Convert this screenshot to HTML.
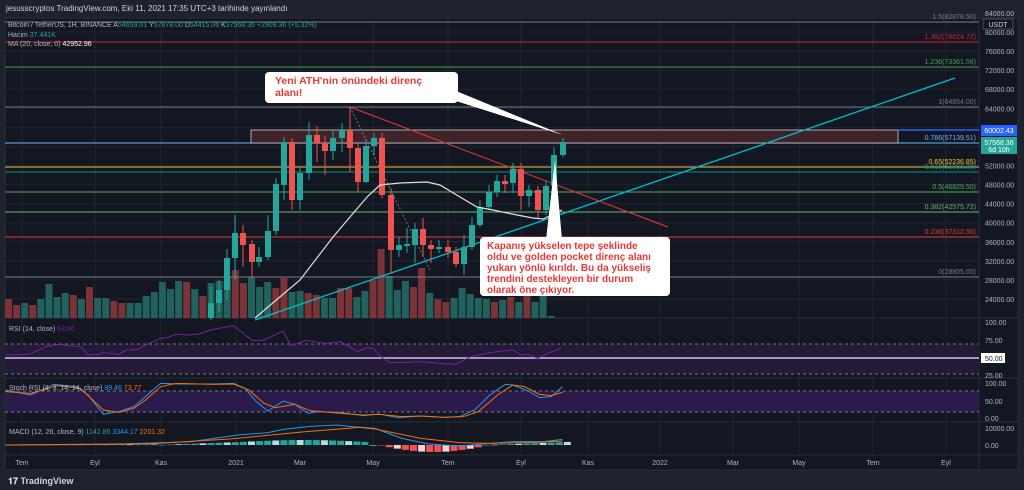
<!DOCTYPE html>
<html><head><meta charset="utf-8"><style>
html,body{margin:0;padding:0;background:#1e222d;width:1024px;height:490px;overflow:hidden}
svg{display:block}
text{font-family:"Liberation Sans","DejaVu Sans",sans-serif}
</style></head><body>
<svg id="s" width="1024" height="490" xmlns="http://www.w3.org/2000/svg">
<rect x="0" y="0" width="1024" height="490" fill="#1e222d"/>
<rect x="5" y="18" width="1013" height="452" fill="#131722" stroke="#2a2e39"/>
<text x="6" y="11" font-size="8" fill="#d1d4dc">jesusscryptos TradingView.com, Eki 11, 2021 17:35 UTC+3 tarihinde yayınlandı</text>
<g id="g"></g>
<text x="8" y="484" font-size="9" fill="#d1d4dc" font-weight="bold">𝟏𝟕 TradingView</text>
</svg>
<script>
var g=document.getElementById('g'),h='';var K=2.613;
function L(x1,y1,x2,y2,c,w,d){h+='<line x1="'+x1+'" y1="'+y1+'" x2="'+x2+'" y2="'+y2+'" stroke="'+c+'" stroke-width="'+(w||1)+'"'+(d?' stroke-dasharray="'+d+'"':'')+'/>';}
function R(x,y,w,hh,c,extra){h+='<rect x="'+x+'" y="'+y+'" width="'+w+'" height="'+hh+'" fill="'+c+'" '+(extra||'')+'/>';}
function T(x,y,s,c,t,a,extra){h+='<text x="'+x+'" y="'+y+'" font-size="'+s+'" fill="'+c+'"'+(a?' text-anchor="'+a+'"':'')+' '+(extra||'')+'>'+t+'</text>';}
function P(pts,c,w,sc){var s='';for(var i=0;i<pts.length;i++)s+=(sc?pts[i][0]/K:pts[i][0])+','+(sc?315+pts[i][1]/3:pts[i][1])+' ';h+='<polyline points="'+s+'" fill="none" stroke="'+c+'" stroke-width="'+(w||1)+'"/>';}
var tx=[[22,'Tem'],[95,'Eyl'],[161,'Kas'],[236,'2021'],[300,'Mar'],[373,'May'],[448,'Tem'],[521,'Eyl'],[588,'Kas'],[660,'2022'],[733,'Mar'],[799,'May'],[873,'Tem'],[946,'Eyl']];
tx.forEach(function(t){L(t[0],18,t[0],455,'#1f2430');T(t[0],465,7,'#b2b5be',t[1],'middle');});
for(var p=84000;p>=24000;p-=4000){var y=32+(80000-p)*0.004768;L(5,y,979,y,'#1f2430');if(p<84000)T(985,y+3,7,'#b2b5be',p+'.00');}
T(985,16,7,'#b2b5be','84000.00');R(983,19,30,10,'#131722','stroke="#4a4e59"');T(998,27,7,'#d1d4dc','USDT','middle');
L(5,318,1018,318,'#2a2e39');L(5,378,1018,378,'#2a2e39');L(5,422,1018,422,'#2a2e39');L(5,455,1018,455,'#2a2e39');L(979,18,979,470,'#2a2e39');
var vol=[['r',299],['r',305],['g',303],['r',305],['g',299],['g',284],['g',297],['g',293],['r',295],['g',299],['r',287],['g',298],['g',298],['r',301],['r',303],['g',303],['g',303],['g',296],['g',292],['g',282],['g',289],['g',281],['r',282],['g',289],['r',296],['g',283],['g',281],['g',276],['r',270],['r',283],['g',277],['g',287],['g',282],['r',288],['r',278],['g',292],['g',291],['r',293],['r',295],['g',298],['g',298],['r',288],['r',288],['g',297],['g',291],['r',280],['r',249],['g',276],['g',290],['g',281],['r',287],['r',268],['g',293],['r',299],['r',302],['g',298],['g',288],['g',294],['g',298],['g',299],['r',302],['g',300],['r',297],['g',302],['r',295],['g',302],['g',296],['g',316]];
vol.forEach(function(v,i){var x=5+i*8.1;R(x,v[1],7,318-v[1],v[0]=='g'?'#22625d':'#7a3437');});
var fib=[[22,'#787b86','1.5(82878.50)'],[42,'#c62828','1.382(78624.72)'],[67,'#43a047','1.236(73361.56)'],[107,'#787b86','1(64854.00)'],[143,'#64b5f6','0.786(57139.51)'],[167,'#fbc02d','0.65(52236.85)'],[172,'#009688','0.618(51083.28)'],[192,'#4caf50','0.5(46829.50)'],[212,'#66bb6a','0.382(42575.72)'],[237,'#e53935','0.236(37312.56)'],[277,'#787b86','0(28805.00)']];
fib.forEach(function(f){L(5,f[0],979,f[0],f[1]);T(976,f[0]-3,7,f[1],f[2],'end');});
R(251,130,647,13,'#3f2329','stroke="#d0d0d0" stroke-width="0.8"');L(898,130,979,130,'#2962ff',1.5);
L(255,320,955,78,'#00bcd4',1.3);L(350,107,668,227,'#e53935',1);L(350,107,430,270,'#787b86',1,'2,2');
var C=[[211,303,318,287,320,1],[219,290,303,280,312,1],[227,258,290,249,300,1],[235,233,258,215,280,1],[243,233,245,225,267,0],[252,244,262,240,277,0],[259,257,262,247,267,1],[268,231,257,215,260,1],[276,184,231,178,235,1],[284,142,185,137,200,1],[292,142,200,138,210,0],[300,173,200,167,210,1],[309,135,173,122,180,1],[317,135,143,126,162,0],[325,143,151,136,175,0],[333,138,151,130,160,1],[342,130,138,123,152,1],[350,130,148,107,172,0],[358,148,182,143,192,0],[366,146,182,139,183,1],[374,138,146,133,155,1],[382,138,195,133,198,0],[391,195,250,188,273,0],[399,245,250,237,257,1],[407,244,246,228,253,1],[415,229,245,223,263,1],[423,229,245,218,257,0],[431,245,249,240,263,0],[439,247,249,240,253,1],[448,247,252,240,258,0],[456,252,264,247,267,0],[464,247,264,235,275,1],[472,225,247,217,250,1],[480,207,225,200,227,1],[489,192,207,185,210,1],[497,181,192,175,197,1],[505,181,184,175,193,0],[513,169,183,163,193,1],[521,169,196,163,210,0],[529,190,196,185,207,1],[538,190,210,186,218,0],[546,186,210,180,215,1],[554,155,186,147,192,1],[563,142,155,138,157,1]];
C.forEach(function(c){var col=c[5]?'#26a69a':'#ef5350';L(c[0],c[3],c[0],c[4],col);R(c[0]-3,c[1],6,Math.max(1,c[2]-c[1]),col);});
P([[255,318],[300,280],[333,237],[367,197],[380,185],[400,183],[427,182],[440,185],[460,197],[477,207],[493,210],[517,215],[533,218],[543,219],[562,210]],'#e0e0e0',1.2);
R(981,125,36,11,'#2962ff');T(999,133,7,'#fff','60002.43','middle');
R(981,137,36,17,'#26a69a');T(999,145,7,'#fff','57568.36','middle');T(999,152,7,'#fff','6d 10h','middle');
h+='<polygon points="444,86 456,101 563,135" fill="#fff"/>';
R(265,72,193,31,'#fff','rx="4"');
T(275,84,10.5,'#e53935','Yeni ATH\'nin önündeki direnç','', 'font-weight="bold"');T(275,96,10.5,'#e53935','alanı!','','font-weight="bold"');
h+='<polygon points="546,240 562,240 555,160" fill="#fff"/>';
R(480,237,190,59,'#fff','rx="4"');
['Kapanış yükselen tepe şeklinde','oldu ve golden pocket direnç alanı','yukarı yönlü kırıldı. Bu da yükseliş','trendini destekleyen bir durum','olarak öne çıkıyor.'].forEach(function(t,i){T(487,249+i*11,10,'#e53935',t,'','font-weight="bold"');});
T(8,27,7,'#b2b5be','Bitcoin / TetherUS, 1H, BINANCE A<tspan fill="#26a69a">54659.01</tspan> Y<tspan fill="#26a69a">57678.00</tspan> D<tspan fill="#26a69a">54415.06</tspan> K<tspan fill="#26a69a">57568.36 +2909.36 (+5.32%)</tspan>');
T(8,37,7,'#b2b5be','Hacim <tspan fill="#26a69a">37.441K</tspan>');
T(8,46,7,'#b2b5be','MA (20, close, 0) <tspan fill="#fff">42952.96</tspan>');
R(5,344,974,30,'#221a36');L(5,344,979,344,'#787b86',1,'3,3');L(5,374,979,374,'#787b86',1,'3,3');L(5,358,979,358,'#d1c4e9',1.5);
P([[15,120],[75,118],[120,95],[150,88],[210,95],[230,120],[260,118],[270,112],[310,118],[330,105],[360,104],[380,90],[420,70],[440,67],[460,57],[490,60],[520,57],[550,45],[610,32],[660,77],[690,75],[740,48],[760,92],[800,76],[850,85],[890,80],[935,110],[960,98],[975,100],[1000,130],[1020,143],[1060,142],[1100,140],[1150,145],[1190,148],[1230,125],[1270,115],[1300,110],[1340,105],[1360,120],[1380,118],[1405,130],[1430,115],[1465,100]],'#7b1fa2',1,1);
T(9,331,7,'#b2b5be','RSI (14, close) <tspan fill="#7b1fa2">63.66</tspan>');
T(985,325,7,'#b2b5be','100.00');T(985,343,7,'#b2b5be','75.00');R(981,353,24,10,'#fff');T(985,361,7,'#131722','50.00');T(985,378,7,'#b2b5be','25.00');
R(5,391,974,21,'#2a1b4a');L(5,391,979,391,'#787b86',1,'3,3');L(5,412,979,412,'#787b86',1,'3,3');
P([[15,225],[80,240],[140,208],[200,215],[230,240],[270,298],[310,290],[350,275],[380,245],[420,205],[470,207],[560,207],[610,205],[640,220],[670,260],[700,288],[740,258],[770,268],[805,295],[830,290],[890,293],[950,302],[990,297],[1040,308],[1100,303],[1160,307],[1200,305],[1240,285],[1280,240],[1320,208],[1340,210],[1380,228],[1410,248],[1440,245],[1470,215]],'#2196f3',1,1);
P([[15,230],[80,235],[150,212],[210,220],[270,285],[310,292],[350,280],[380,255],[420,215],[460,205],[560,208],[610,207],[650,225],[690,265],[720,278],[770,268],[810,287],[840,290],[890,295],[950,300],[990,298],[1050,305],[1100,303],[1160,307],[1210,305],[1250,290],[1300,240],[1340,210],[1370,215],[1410,238],[1440,242],[1470,232]],'#ff6d00',1,1);
T(9,390,7,'#b2b5be','Stoch RSI (3, 3, 14, 14, close) <tspan fill="#2196f3">89.46</tspan> <tspan fill="#ff6d00">73.77</tspan>');
T(985,386,7,'#b2b5be','100.00');T(985,404,7,'#b2b5be','50.00');T(985,421,7,'#b2b5be','0.00');
for(var i=0;i<70;i++){var x=5+i*8.1,v;var z=x*K;if(x>568)break;
 if(z<400)v=0.5;else if(z<620)v=(z-400)/220*3;else if(z<950)v=3+2*Math.sin((z-620)/330*Math.PI);else if(z<990)v=-0.5;else if(z<1260)v=-6*Math.sin((z-990)/270*Math.PI)-1;else v=(z-1260)/210*3;
 var col=v>=0?((i%3==0)?'#b2dfdb':'#26a69a'):((i%3==0)?'#ffcdd2':'#ef5350');
 if(v>=0)R(x,445-v,7,Math.max(0.6,v),col);else R(x,445,7,-v,col);}
P([[15,390],[300,388],[500,380],[620,360],[700,353],[740,343],[810,334],[880,330],[920,335],[980,340],[1050,370],[1120,387],[1200,393],[1280,385],[1340,380],[1420,380],[1470,373]],'#2196f3',1,1);
P([[15,390],[400,386],[600,372],[800,350],[940,337],[980,342],[1100,370],[1200,383],[1280,385],[1400,382],[1470,378]],'#ff6d00',1,1);
T(9,434,7,'#b2b5be','MACD (12, 26, close, 9) <tspan fill="#26a69a">1142.85</tspan> <tspan fill="#2196f3">3344.17</tspan> <tspan fill="#ff6d00">2201.32</tspan>');
T(985,431,7,'#b2b5be','10000.00');T(985,448,7,'#b2b5be','0.00');
g.innerHTML=h;
</script>
</body></html>
